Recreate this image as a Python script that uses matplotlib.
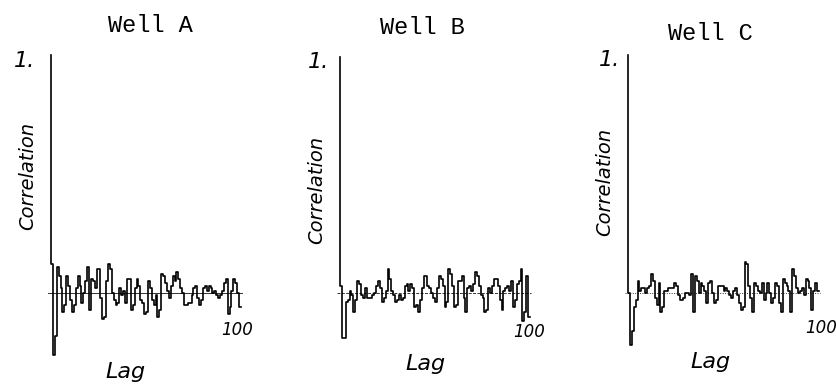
import numpy as np
import matplotlib
matplotlib.use('Agg')
import matplotlib.pyplot as plt

# autocorrelation values, lag 0..100
lags = np.arange(0, 101)

well_a = [1.0, 0.12, -0.26, -0.18, 0.11, 0.07, 0.02, -0.08, -0.05, 0.07,
          0.03, -0.03, -0.08, -0.05, 0.02, 0.07, 0.03, -0.04, 0.0, 0.05,
          0.11, -0.07, 0.06, 0.05, 0.02, 0.1, 0.1, -0.02, -0.11, -0.1,
          0.05, 0.12, 0.1, 0.0, -0.03, -0.05, -0.04, 0.02, -0.01, 0.01,
          -0.04, 0.06, 0.06, -0.07, -0.05, 0.02, 0.06, 0.03, -0.03, -0.04,
          -0.09, -0.08, 0.05, 0.02, -0.03, -0.05, -0.01, -0.1, -0.07, 0.08,
          0.07, 0.04, 0.01, -0.02, 0.03, 0.07, 0.05, 0.09, 0.06, 0.02,
          0.0, -0.05, -0.05, -0.04, -0.04, -0.01, 0.02, 0.03, -0.02, -0.05,
          -0.03, 0.02, 0.03, 0.01, 0.03, 0.02, 0.0, 0.01, -0.01, -0.02,
          -0.01, 0.01, 0.04, 0.06, -0.09, -0.06, 0.01, 0.06, 0.04, 0.0,
          -0.06]

well_b = [1.0, 0.03, -0.19, -0.19, -0.04, -0.03, 0.01, -0.01, -0.08, -0.03,
          0.05, 0.04, -0.01, -0.02, 0.02, -0.02, -0.02, -0.02, -0.01, 0.0,
          0.03, 0.05, 0.02, -0.04, -0.02, 0.01, 0.1, 0.06, 0.01, -0.01,
          -0.04, -0.03, -0.01, -0.03, -0.02, 0.03, 0.04, 0.01, 0.04, 0.02,
          -0.06, -0.05, -0.08, -0.03, 0.02, 0.07, 0.07, 0.03, 0.02, 0.0,
          -0.02, -0.04, 0.02, 0.07, 0.06, 0.03, -0.06, -0.04, 0.1, 0.08,
          0.03, -0.06, -0.05, 0.05, 0.05, 0.07, -0.02, -0.08, 0.02, 0.03,
          0.01, 0.04, 0.09, 0.07, 0.03, -0.01, -0.02, -0.08, -0.07, 0.02,
          0.0, 0.03, 0.06, 0.06, 0.03, -0.03, -0.07, 0.01, 0.02, 0.03,
          0.01, 0.05, -0.06, -0.03, 0.04, 0.05, 0.1, -0.12, -0.08, 0.07,
          -0.1]

well_c = [1.0, 0.0, -0.22, -0.16, -0.06, -0.03, 0.05, 0.01, 0.02, 0.02,
          0.0, 0.02, 0.03, 0.08, 0.05, -0.02, -0.05, 0.04, -0.08, -0.06,
          0.01, 0.01, 0.02, 0.02, 0.02, 0.04, 0.03, -0.01, -0.03, -0.03,
          -0.02, 0.0, 0.0, -0.01, 0.08, -0.08, 0.07, 0.05, 0.0, 0.04,
          0.03, 0.01, -0.04, 0.04, 0.05, 0.0, -0.04, -0.03, 0.03, 0.03,
          0.03, 0.01, 0.02, 0.01, -0.01, -0.02, 0.01, 0.02, -0.01, -0.04,
          -0.07, -0.06, 0.13, 0.12, 0.03, -0.02, -0.08, 0.04, 0.03, 0.01,
          0.0, 0.04, -0.03, 0.0, 0.04, 0.0, -0.04, -0.02, 0.04, 0.03,
          -0.04, -0.08, 0.06, 0.04, 0.03, 0.01, -0.08, 0.1, 0.07, 0.02,
          0.0, 0.01, 0.02, -0.01, 0.06, 0.05, 0.02, -0.07, 0.01, 0.04,
          0.01]

titles = ['Well A', 'Well B', 'Well C']
series = [well_a, well_b, well_c]

W, H = 836, 390
fig = plt.figure(figsize=(W / 100, H / 100), dpi=100)
fig.patch.set_facecolor('white')

def fx(px):
    return px / W

def fy(py):
    return 1 - py / H

# pixel geometry of each panel: x of lag 0, px per lag, y of 1.0, y of 0
panels = [
    dict(x0=51, xpl=1.9, y1=55, yz=293, title=(150, 25), ylab=(28, 176), one=(25, 61),
         lag=(125, 372), hund=(237, 330), hund_ha='center', zero_ls='-'),
    dict(x0=340, xpl=1.9, y1=57, yz=293, title=(422, 28), ylab=(317, 190), one=(319, 62),
         lag=(425, 364), hund=(529, 332), hund_ha='center', zero_ls=(0, (3, 1.5))),
    dict(x0=628, xpl=1.91, y1=55, yz=293, title=(710, 33), ylab=(605, 182), one=(610, 60),
         lag=(710, 362), hund=(805, 328), hund_ha='left', zero_ls=(0, (1, 1.5))),
]

hand = dict(family='DejaVu Sans', style='italic', color='black')

for p, title, vals in zip(panels, titles, series):
    ymin, ymax = -0.3, 1.0
    scale = p['yz'] - p['y1']          # px per 1.0
    top = p['y1']
    bottom = p['yz'] - ymin * scale
    left = p['x0']
    right = p['x0'] + 100 * p['xpl']
    ax = fig.add_axes([fx(left), fy(bottom), fx(right) - fx(left), (bottom - top) / H])
    ax.set_xlim(0, 100)
    ax.set_ylim(ymin, ymax)
    ax.axis('off')

    # zero line, starting just left of the axis
    ax.plot([-1.8, 100.5], [0, 0], color='#333333', lw=0.7, ls=p['zero_ls'], clip_on=False)
    ax.step(lags, vals, where='pre', color='black', lw=1.2, clip_on=False)

    fig.text(fx(p['title'][0]), fy(p['title'][1]), title, ha='center', va='center',
             family='Liberation Mono', fontsize=17, color='black')
    fig.text(fx(p['ylab'][0]), fy(p['ylab'][1]), 'Correlation', rotation=90,
             ha='center', va='center', fontsize=14, **hand)
    fig.text(fx(p['one'][0]), fy(p['one'][1]), '1.', ha='center', va='center',
             fontsize=16, **hand)
    fig.text(fx(p['lag'][0]), fy(p['lag'][1]), 'Lag', ha='center', va='center',
             fontsize=16, **hand)
    fig.text(fx(p['hund'][0]), fy(p['hund'][1]), '100', ha=p['hund_ha'],
             va='center', fontsize=12, **hand)

fig.savefig('out.png', dpi=100, facecolor='white')
